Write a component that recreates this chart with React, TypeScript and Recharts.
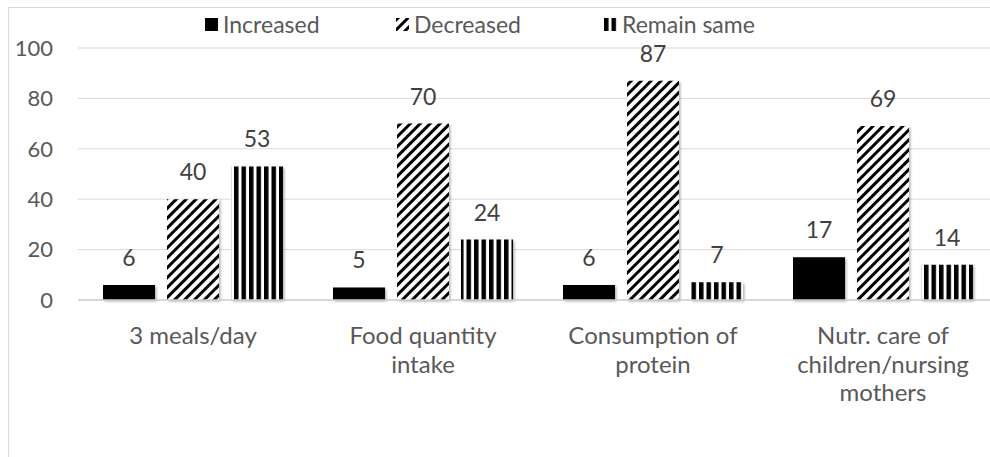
import { BarChart, Bar, XAxis, YAxis, CartesianGrid, LabelList } from 'recharts';

const FONT = 'Lato, "Open Sans", sans-serif';
const TEXT_SIZE = 24;
const LEGEND_SIZE = 23;
const NUM_SIZE = 22;

const categories = [
  '3 meals/day',
  'Food quantity intake',
  'Consumption of protein',
  'Nutr. care of children/nursing mothers',
];
// how each category label wraps under the axis
const categoryLines = [
  ['3 meals/day'],
  ['Food quantity', 'intake'],
  ['Consumption of', 'protein'],
  ['Nutr. care of', 'children/nursing', 'mothers'],
];
const increased = [6, 5, 6, 17];
const decreased = [40, 70, 87, 69];
const remainSame = [53, 24, 7, 14];
const yTicks = [0, 20, 40, 60, 80, 100];

const data = categories.map((name, i) => ({
  name,
  increased: increased[i],
  decreased: decreased[i],
  remainSame: remainSame[i],
}));

const legendItems = [
  { label: 'Increased', fill: '#000', left: 196 },
  { label: 'Decreased', fill: 'url(#diagStripes)', left: 387 },
  { label: 'Remain same', fill: 'url(#vertStripes)', left: 595 },
];

function CategoryTick({ x, y, payload }: any) {
  const idx = categories.indexOf(payload.value);
  const lines = idx >= 0 ? categoryLines[idx] : [payload.value];
  return (
    <text x={x} y={y} textAnchor="middle" fill="#595959" fontSize={TEXT_SIZE} fontFamily={FONT}>
      {lines.map((line: string, i: number) => (
        <tspan key={i} x={x} dy={i === 0 ? 44 : 28.5}>
          {line}
        </tspan>
      ))}
    </text>
  );
}

export default function App() {
  return (
    <div style={{ position: 'fixed', inset: 0, overflow: 'hidden', background: '#fff' }}>
      <svg width={0} height={0} style={{ position: 'absolute' }}>
        <defs>
          <pattern id="diagStripes" width={7} height={7} patternUnits="userSpaceOnUse" patternTransform="rotate(45)">
            <rect width={7} height={7} fill="#fff" />
            <rect width={3} height={7} fill="#000" />
          </pattern>
          <pattern id="vertStripes" width={7.5} height={8} patternUnits="userSpaceOnUse">
            <rect width={7.5} height={8} fill="#fff" />
            <rect width={4.5} height={8} fill="#000" />
          </pattern>
          <filter id="barShadow" x="-20%" y="-20%" width="140%" height="140%">
            <feDropShadow dx={1.5} dy={1.5} stdDeviation={1.2} floodColor="#000" floodOpacity={0.3} />
          </filter>
        </defs>
      </svg>
      <div
        style={{
          position: 'absolute',
          left: 8,
          top: 7,
          width: 1010,
          height: 470,
          border: '1px solid #d9d9d9',
          fontFamily: FONT,
        }}
      >
        {legendItems.map((item) => (
          <div
            key={item.label}
            style={{
              position: 'absolute',
              left: item.left,
              top: 6,
              display: 'flex',
              alignItems: 'center',
              gap: 5,
              height: 20,
              fontSize: LEGEND_SIZE,
              color: '#595959',
              lineHeight: '20px',
              whiteSpace: 'nowrap',
            }}
          >
            <svg width={13} height={13}>
              <rect width={13} height={13} fill={item.fill} />
            </svg>
            <span>{item.label}</span>
          </div>
        ))}
        <BarChart
          width={1010}
          height={470}
          data={data}
          margin={{ top: 40, right: 21, bottom: 48, left: 0 }}
          barSize={52}
          barGap={12}
        >
          <CartesianGrid vertical={false} stroke="#d9d9d9" strokeWidth={1} />
          <XAxis
            dataKey="name"
            axisLine={{ stroke: '#d0d0d0', strokeWidth: 1.5 }}
            tickLine={false}
            tickSize={0}
            tickMargin={0}
            height={130}
            interval={0}
            tick={<CategoryTick />}
          />
          <YAxis
            domain={[0, 100]}
            ticks={yTicks}
            width={69}
            axisLine={false}
            tickLine={false}
            tickSize={0}
            tickMargin={25}
            tick={{ fill: '#595959', fontSize: NUM_SIZE, fontFamily: FONT }}
          />
          <Bar dataKey="increased" fill="#000" filter="url(#barShadow)" isAnimationActive={false}>
            <LabelList dataKey="increased" position="top" offset={19} fill="#404040" fontSize={23} fontFamily={FONT} />
          </Bar>
          <Bar dataKey="decreased" fill="url(#diagStripes)" filter="url(#barShadow)" isAnimationActive={false}>
            <LabelList dataKey="decreased" position="top" offset={19} fill="#404040" fontSize={23} fontFamily={FONT} />
          </Bar>
          <Bar dataKey="remainSame" fill="url(#vertStripes)" filter="url(#barShadow)" isAnimationActive={false}>
            <LabelList dataKey="remainSame" position="top" offset={19} fill="#404040" fontSize={23} fontFamily={FONT} />
          </Bar>
        </BarChart>
      </div>
    </div>
  );
}
